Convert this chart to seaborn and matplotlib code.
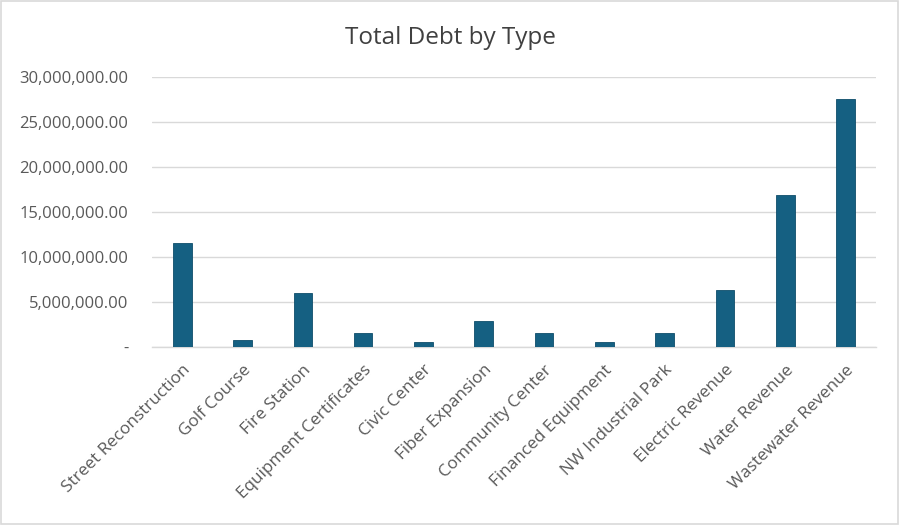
import matplotlib
matplotlib.use("Agg")
import matplotlib.pyplot as plt
import seaborn as sns
import pandas as pd
from matplotlib.ticker import FuncFormatter
from matplotlib.patches import Rectangle

categories = ["Street Reconstruction", "Golf Course", "Fire Station", "Equipment Certificates",
              "Civic Center", "Fiber Expansion", "Community Center", "Financed Equipment",
              "NW Industrial Park", "Electric Revenue", "Water Revenue", "Wastewater Revenue"]
values = [11600000, 750000, 6000000, 1560000, 520000, 2830000, 1560000, 520000,
          1560000, 6300000, 16850000, 27550000]
y_ticks = [0, 5000000, 10000000, 15000000, 20000000, 25000000, 30000000]
title = "Total Debt by Type"

sns.set_theme(style="white")
plt.rcParams['font.family'] = ['Open Sans', 'DejaVu Sans']

df = pd.DataFrame({"type": categories, "debt": values})

fig = plt.figure(figsize=(9, 5.25), dpi=100)
ax = fig.add_axes([0.169, 0.3396, 0.804, 0.513])
sns.barplot(data=df, x="type", y="debt", color="#156082", width=0.31, ax=ax,
            saturation=1, edgecolor="#0f4d6b", linewidth=0.6, zorder=3)

ax.set_ylim(0, 30000000)
ax.set_yticks(y_ticks)
ax.yaxis.set_major_formatter(FuncFormatter(lambda v, p: "-" if v == 0 else f"{v:,.2f}"))
ax.grid(axis="y", color="#d9d9d9", linewidth=1, zorder=0)
ax.grid(axis="x", visible=False)
for s in ["top", "right", "left"]:
    ax.spines[s].set_visible(False)
ax.spines["bottom"].set_color("#d9d9d9")
ax.spines["bottom"].set_linewidth(1)
ax.set_xlabel("")
ax.set_ylabel("")
ax.tick_params(axis="y", length=0, pad=17, labelsize=12, labelcolor="#595959")
ax.tick_params(axis="x", length=0, pad=11, labelsize=12.3, labelcolor="#595959")
plt.setp(ax.get_xticklabels(), rotation=45, ha="right", rotation_mode="anchor")

fig.text(0.5, 0.927, title, ha="center", va="center", fontsize=17.5, color="#404040")
fig.patches.append(Rectangle((0.001, 0.001), 0.997, 0.997, transform=fig.transFigure,
                             fill=False, edgecolor="#d9d9d9", linewidth=1.2))

fig.savefig("out.png", dpi=100)
